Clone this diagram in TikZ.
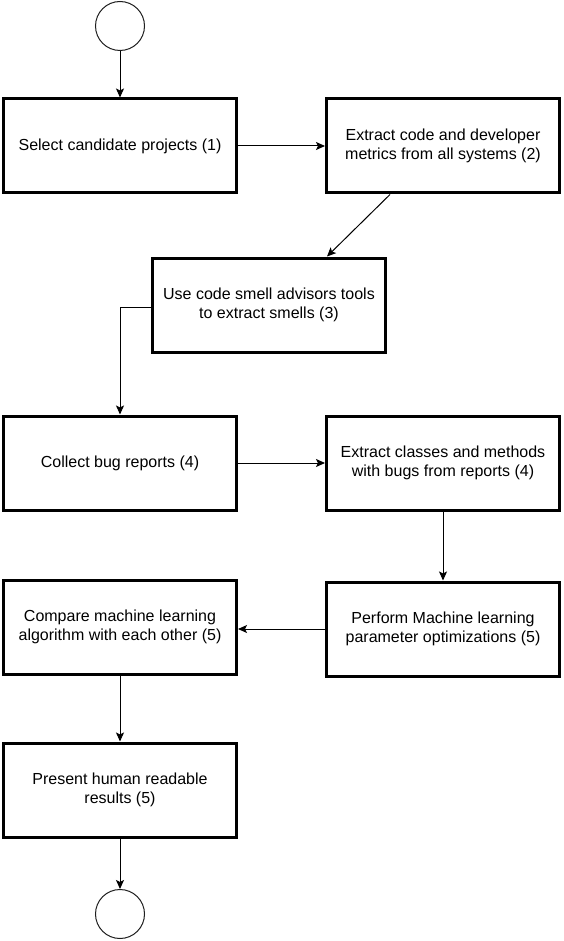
\documentclass[tikz,border=0pt]{standalone}
\usepackage{fontspec}
\setmainfont{Liberation Sans}
\usepackage{tikz}
\usetikzlibrary{arrows.meta, calc}
\usepackage{xcolor}
\definecolor{ink}{RGB}{0,0,0}
\definecolor{rim}{RGB}{30,30,30}

\tikzset{
  stepbox/.style={draw=ink, line width=3pt, fill=white, minimum width=233pt,
    minimum height=94pt, align=center, inner sep=4pt,
    font=\fontsize{16}{19.2}\selectfont},
  endpoint/.style={circle, draw=rim, line width=1pt, minimum size=49pt, inner sep=0pt},
  flow/.style={-{Stealth[length=9pt,width=8pt,inset=2pt]}, line width=1pt, draw=ink},
}

\begin{document}
\begin{tikzpicture}[x=1pt, y=-1pt]
  \useasboundingbox (0,0) rectangle (563,941);
  % start and end
  \node[endpoint] (start) at (120, 26) {};
  \node[endpoint] (stop) at (120, 914) {};
  % row 1
  \node[stepbox] (select) at (120, 146) {Select candidate projects (1)};
  \node[stepbox] (metrics) at (443, 146) {Extract code and developer\\metrics from all systems (2)};
  % row 2
  \node[stepbox] (smells) at (269, 305) {Use code smell advisors tools\\to extract smells (3)};
  % row 3
  \node[stepbox] (bugs) at (120, 463) {Collect bug reports (4)};
  \node[stepbox] (classes) at (443, 463) {Extract classes and methods\\with bugs from reports (4)};
  % row 4
  \node[stepbox] (compare) at (120, 627) {Compare machine learning\\algorithm with each other (5)};
  \node[stepbox] (tuning) at (443, 629) {Perform Machine learning\\parameter optimizations (5)};
  % row 5
  \node[stepbox] (present) at (120, 790) {Present human readable\\results (5)};

  % flow
  \draw[flow] (start) -- (select);
  \draw[flow] (select) -- (metrics);
  \draw[flow] ($(metrics.south)+(-53,0)$) -- ($(smells.north)+(58,0)$);
  \draw[flow] ($(smells.west)+(0,2)$) -| (bugs.north);
  \draw[flow] (bugs) -- (classes);
  \draw[flow] (classes) -- (tuning);
  \draw[flow] (tuning.west) -- (compare.east |- tuning.west);
  \draw[flow] (compare) -- (present);
  \draw[flow] (present) -- (stop);
\end{tikzpicture}
\end{document}
